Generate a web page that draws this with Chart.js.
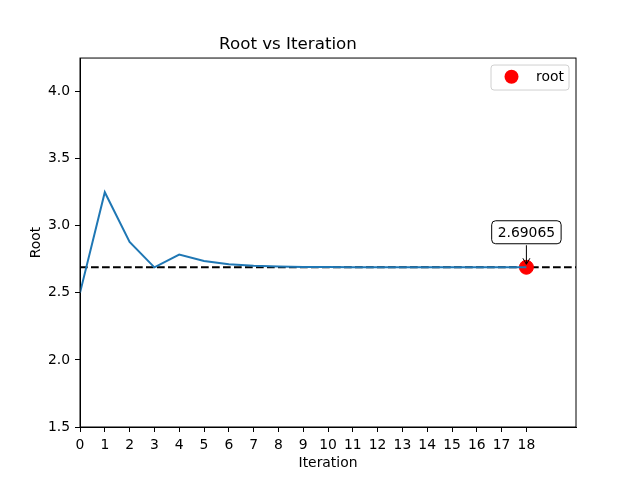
<!DOCTYPE html>
<html>
<head>
<meta charset="utf-8">
<script src="https://cdn.jsdelivr.net/npm/chart.js@4.4.1/dist/chart.umd.min.js"></script>
<style>
  html, body { margin: 0; padding: 0; background: #fff; }
  #wrap { width: 640px; height: 480px; }
</style>
</head>
<body>
<div id="wrap"><canvas id="root-chart"></canvas></div>
<script>
"use strict";

// iteration number and root estimate at each step
var iterations = [0, 1, 2, 3, 4, 5, 6, 7, 8, 9, 10, 11, 12, 13, 14, 15, 16, 17, 18];
var rootValues = [2.5, 3.25, 2.879, 2.690, 2.785, 2.738, 2.713, 2.701, 2.696, 2.693,
  2.692, 2.6915, 2.6911, 2.6909, 2.6908, 2.6907, 2.69067, 2.69066, 2.69065];
var finalRoot = 2.69065;
var xTicks = [0, 1, 2, 3, 4, 5, 6, 7, 8, 9, 10, 11, 12, 13, 14, 15, 16, 17, 18];
var yTicks = [1.5, 2.0, 2.5, 3.0, 3.5, 4.0];

var FONT = "'DejaVu Sans', sans-serif";

// axhline, frame, legend and annotation drawn on top of the chart
var extrasPlugin = {
  id: "extras",
  beforeDatasetsDraw(chart) {
    var ctx = chart.ctx;
    var a = chart.chartArea;
    var y = chart.scales.y.getPixelForValue(finalRoot);
    ctx.save();
    ctx.strokeStyle = "#000";
    ctx.lineWidth = 2;
    ctx.setLineDash([7.7, 3.3]);
    ctx.beginPath();
    ctx.moveTo(a.left, y);
    ctx.lineTo(a.right, y);
    ctx.stroke();
    ctx.restore();
  },
  afterDraw(chart) {
    var ctx = chart.ctx;
    var a = chart.chartArea;
    var xs = chart.scales.x;
    var ys = chart.scales.y;
    ctx.save();
    // frame
    ctx.strokeStyle = "#000";
    ctx.lineWidth = 1;
    ctx.strokeRect(a.left, a.top, a.right - a.left, a.bottom - a.top);

    // legend
    var lx = a.right - 85, ly = a.top + 7, lw = 78, lh = 25;
    roundRect(ctx, lx, ly, lw, lh, 3);
    ctx.fillStyle = "rgba(255,255,255,0.8)";
    ctx.fill();
    ctx.strokeStyle = "#d0d0d0";
    ctx.stroke();
    ctx.beginPath();
    ctx.arc(lx + 20.5, ly + 11.7, 7, 0, Math.PI * 2);
    ctx.fillStyle = "red";
    ctx.fill();
    ctx.fillStyle = "#000";
    ctx.font = "13.9px " + FONT;
    ctx.textAlign = "left";
    ctx.textBaseline = "middle";
    ctx.fillText("root", lx + 45, ly + 12);

    // annotation
    var px = xs.getPixelForValue(18);
    var py = ys.getPixelForValue(finalRoot);
    var label = finalRoot.toFixed(5);
    ctx.font = "13.9px " + FONT;
    var tw = ctx.measureText(label).width;
    var by = py - 35;
    roundRect(ctx, px - tw / 2 - 6, by - 11.5, tw + 12, 23, 4);
    ctx.fillStyle = "#fff";
    ctx.fill();
    ctx.strokeStyle = "#000";
    ctx.lineWidth = 1;
    ctx.stroke();
    ctx.fillStyle = "#000";
    ctx.textAlign = "center";
    ctx.fillText(label, px, by + 1);
    // arrow
    ctx.beginPath();
    ctx.moveTo(px, by + 13);
    ctx.lineTo(px, py - 3);
    ctx.moveTo(px - 3.5, py - 9);
    ctx.lineTo(px, py - 3);
    ctx.lineTo(px + 3.5, py - 9);
    ctx.stroke();
    ctx.restore();
  },
};

function roundRect(ctx, x, y, w, h, r) {
  ctx.beginPath();
  ctx.moveTo(x + r, y);
  ctx.lineTo(x + w - r, y);
  ctx.arcTo(x + w, y, x + w, y + r, r);
  ctx.lineTo(x + w, y + h - r);
  ctx.arcTo(x + w, y + h, x + w - r, y + h, r);
  ctx.lineTo(x + r, y + h);
  ctx.arcTo(x, y + h, x, y + h - r, r);
  ctx.lineTo(x, y + r);
  ctx.arcTo(x, y, x + r, y, r);
  ctx.closePath();
}

var ctx = document.getElementById("root-chart").getContext("2d");
new Chart(ctx, {
  type: "line",
  data: {
    datasets: [
      {
        label: "Root",
        data: iterations.map((it, i) => ({ x: it, y: rootValues[i] })),
        borderColor: "#1f77b4",
        borderWidth: 2,
        pointRadius: 0,
        tension: 0,
        fill: false,
      },
      {
        label: "root",
        data: [{ x: iterations[iterations.length - 1], y: finalRoot }],
        showLine: false,
        pointRadius: 7,
        pointBackgroundColor: "red",
        pointBorderColor: "red",
      },
    ],
  },
  options: {
    responsive: true,
    maintainAspectRatio: false,
    animation: false,
    devicePixelRatio: 1,
    layout: { padding: { left: 0, right: 64, top: 0, bottom: 0 } },
    plugins: {
      legend: { display: false },
      tooltip: { enabled: false },
      title: {
        display: true,
        text: "Root vs Iteration",
        color: "#000",
        font: { family: FONT, size: 16.7, weight: "normal" },
        padding: { top: 35, bottom: 3 },
      },
    },
    scales: {
      x: {
        type: "linear",
        min: 0,
        max: 20,
        afterBuildTicks: (s) => { s.ticks = xTicks.map((v) => ({ value: v })); },
        afterFit: (s) => { s.height = 53; },
        ticks: {
          color: "#000",
          font: { family: FONT, size: 13.9 },
          padding: 5,
          maxRotation: 0,
          autoSkip: false,
        },
        grid: { display: true, drawOnChartArea: false, drawTicks: true, tickLength: 5, color: "#000" },
        border: { display: true, color: "#000" },
        title: {
          display: true,
          text: "Iteration",
          color: "#000",
          font: { family: FONT, size: 13.9 },
          padding: { top: 2, bottom: 8 },
        },
      },
      y: {
        type: "linear",
        min: 1.5,
        max: 4.25,
        afterBuildTicks: (s) => { s.ticks = yTicks.map((v) => ({ value: v })); },
        afterFit: (s) => { s.width = 80; },
        ticks: {
          color: "#000",
          font: { family: FONT, size: 13.9 },
          padding: 5,
          callback: (v) => v.toFixed(1),
        },
        grid: { display: true, drawOnChartArea: false, drawTicks: true, tickLength: 5, color: "#000" },
        border: { display: true, color: "#000" },
        title: {
          display: true,
          text: "Root",
          color: "#000",
          font: { family: FONT, size: 13.9 },
          padding: { top: 28, bottom: 6 },
        },
      },
    },
  },
  plugins: [extrasPlugin],
});
</script>
</body>
</html>
